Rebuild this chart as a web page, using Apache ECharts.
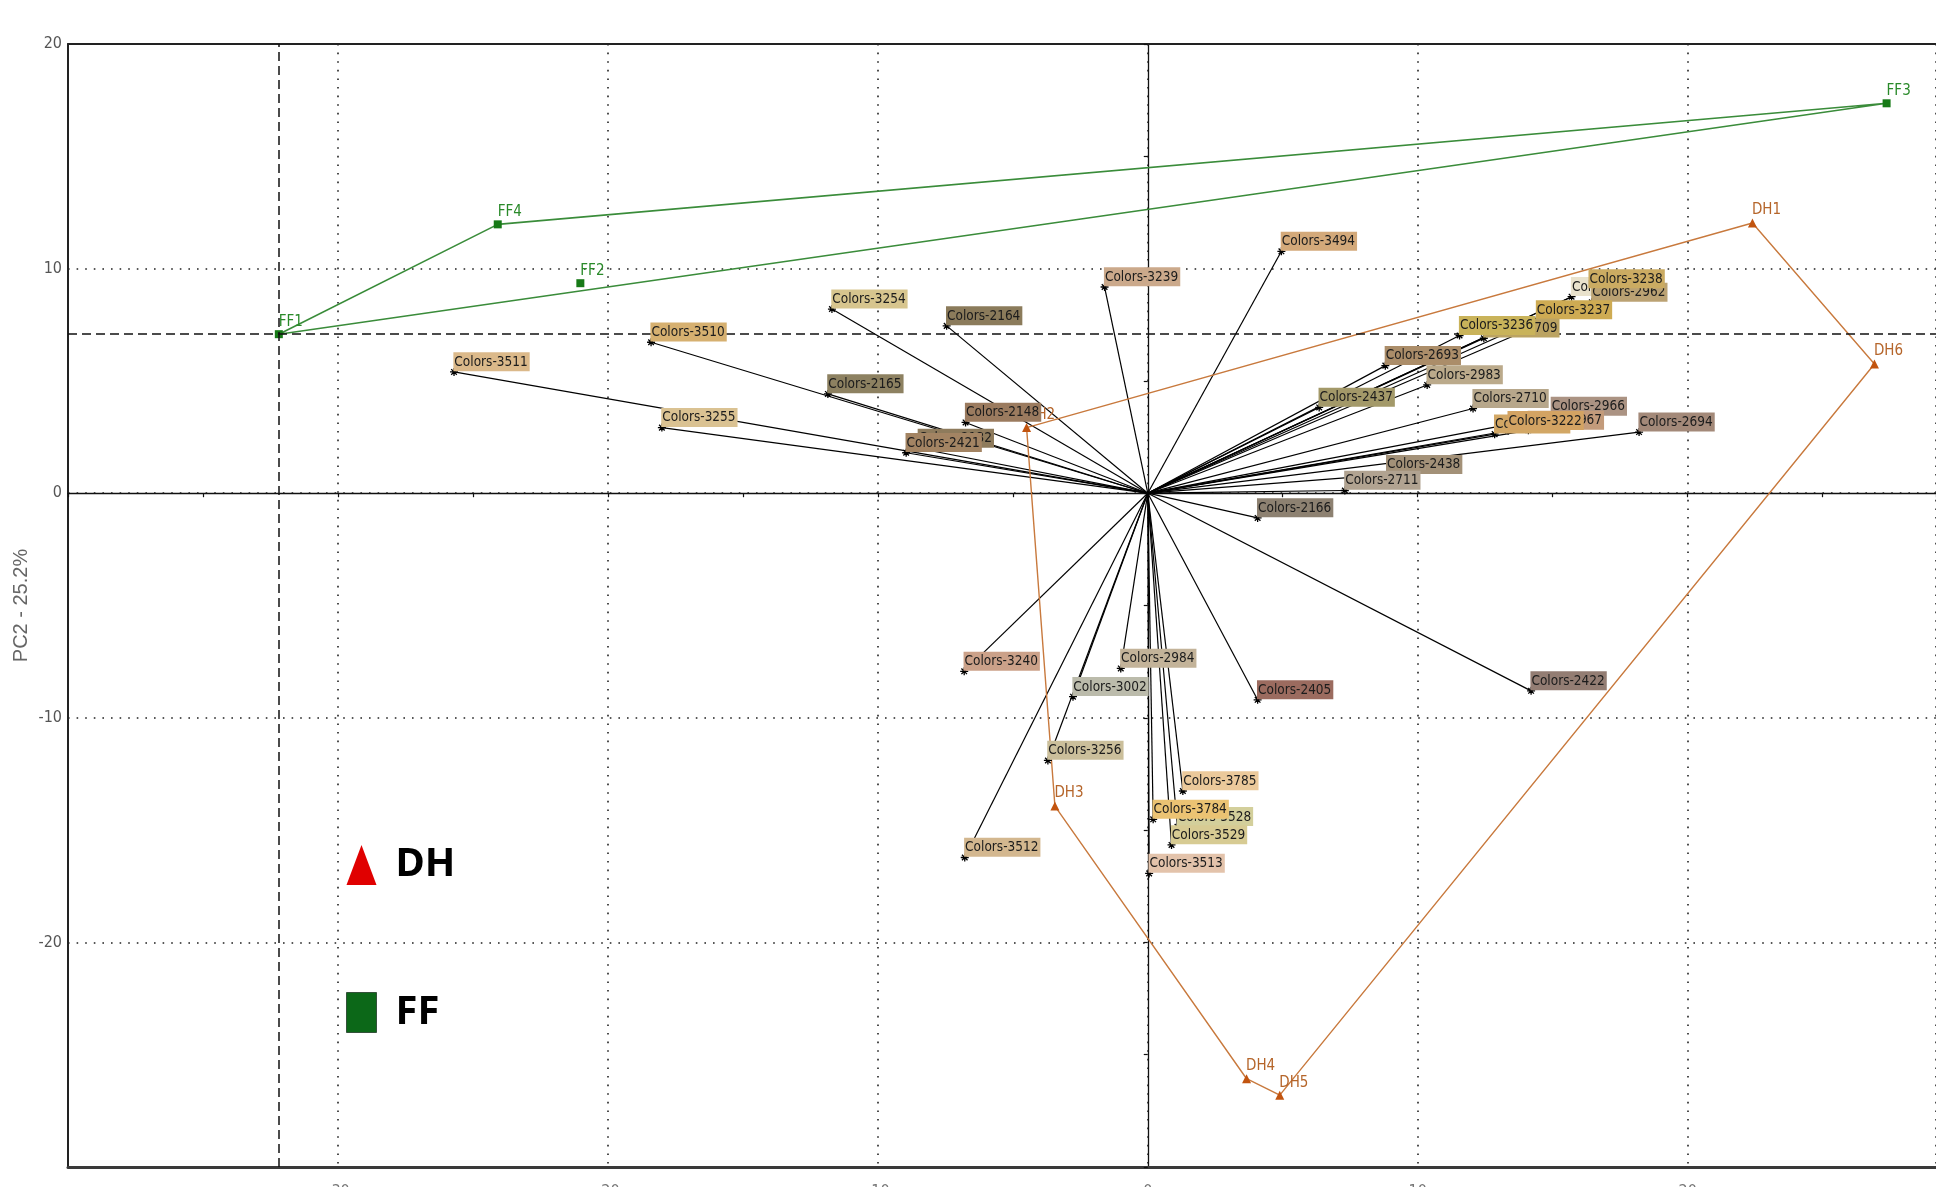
<!DOCTYPE html>
<html>
<head>
<meta charset="utf-8">
<title>PCA biplot</title>
<script src="https://cdn.jsdelivr.net/npm/echarts@6/dist/echarts.min.js"></script>
<style>
    html, body { margin: 0; padding: 0; background: #fff; }
    #chart { width: 1936px; height: 1187px; }
</style>
</head>
<body>
<div id="chart"></div>
<script>
// variable loadings (drawn in this order, later labels on top)
const loadNames = [
    'Colors-3511', 'Colors-3510', 'Colors-3254', 'Colors-2164', 'Colors-2165', 'Colors-3255',
    'Colors-2132', 'Colors-2421', 'Colors-2148', 'Colors-3239', 'Colors-3494',
    'Colors-3233', 'Colors-2962', 'Colors-3238', 'Colors-3237', 'Colors-2709', 'Colors-3236',
    'Colors-2693', 'Colors-2983', 'Colors-2437', 'Colors-2710', 'Colors-2966', 'Colors-2967',
    'Colors-2965', 'Colors-3222', 'Colors-2694',
    'Colors-2438', 'Colors-2711', 'Colors-2166',
    'Colors-3240', 'Colors-2984', 'Colors-3002', 'Colors-2405', 'Colors-2422', 'Colors-3256', 'Colors-3512',
    'Colors-3785', 'Colors-3528', 'Colors-3784', 'Colors-3529', 'Colors-3513'
]
const loadX = [
    -25.7, -18.4, -11.7, -7.45, -11.85, -18.0,
    -8.5, -8.95, -6.75, -1.6, 4.95,
    15.7, 16.45, 16.35, 14.4, 12.45, 11.55,
    8.8, 10.35, 6.35, 12.05, 14.95, 14.1,
    12.85, 13.35, 18.2,
    8.85, 7.3, 4.07,
    -6.8, -1.0, -2.77, 4.07, 14.2, -3.7, -6.78,
    1.3, 1.1, 0.2, 0.88, 0.05
]
const loadY = [
    5.4, 6.72, 8.2, 7.45, 4.42, 2.92,
    2.0, 1.8, 3.15, 9.18, 10.77,
    8.75, 8.5, 9.1, 7.72, 6.9, 7.02,
    5.68, 4.82, 3.82, 3.77, 3.42, 2.8,
    2.63, 2.78, 2.72,
    0.83, 0.12, -1.1,
    -7.93, -7.8, -9.06, -9.2, -8.8, -11.9, -16.22,
    -13.26, -14.85, -14.52, -15.66, -16.93
]
// label box colours, one per loading
const loadBg = [
    '#dbb98a', '#d6b070', '#d7c58e', '#8b7b5b', '#8d8161', '#dac292',
    '#8e7b5c', '#a38463', '#9b7b5f', '#cba98b', '#d3a97a',
    '#e9e2cc', '#bba273', '#cbab62', '#ceab53', '#bba362', '#c9b35a',
    '#ab8d69', '#bbaa8b', '#a39969', '#b7a78b', '#ab9383', '#c39b7b',
    '#d2a765', '#d3a363', '#a38979',
    '#a39178', '#b1a391', '#8d8171',
    '#cba189', '#c3b399', '#bbbbab', '#9b6b5f', '#937d73', '#cbbf9b', '#d3b78f',
    '#ebc99b', '#d3cf9b', '#ebc373', '#d7cb93', '#e3c3ab'
]

// sample scores
const ffNames = ['FF1', 'FF2', 'FF3', 'FF4']
const ffX = [-32.19, -21.02, 27.37, -24.08]
const ffY = [7.08, 9.35, 17.36, 11.97]
const ffHull = ['FF1', 'FF4', 'FF3', 'FF1']

const dhNames = ['DH1', 'DH2', 'DH3', 'DH4', 'DH5', 'DH6']
const dhX = [22.4, -4.49, -3.44, 3.66, 4.89, 26.92]
const dhY = [12.03, 2.92, -13.93, -26.07, -26.8, 5.75]
const dhHull = ['DH1', 'DH6', 'DH5', 'DH4', 'DH3', 'DH2', 'DH1']

// axis ranges
const xMin = -40, xMax = 29.2, yMin = -30, yMax = 20
const gridStep = 10, originTickStep = 5
const yAxisTitle = 'PC2 - 25.2%'

const narrow = "'Liberation Sans Narrow', 'Arial Narrow', 'DejaVu Sans Condensed', sans-serif"
const asterisk = 'path://M4,0L4,8M0,4L8,4M1.2,1.2L6.8,6.8M6.8,1.2L1.2,6.8'
const dotted = { color: '#222', width: 1.6, type: [1.6, 7] }

const hullPoints = (hull, names, xs, ys) => hull.map(n => {
    const i = names.indexOf(n)
    return [xs[i], ys[i]]
})

const chart = echarts.init(document.getElementById('chart'))

chart.setOption({
    animation: false,
    backgroundColor: '#fff',
    grid: {
        left: 68, top: 44, right: 0, bottom: 20,
        containLabel: false,
        outerBoundsMode: 'none'
    },
    legend: {
        orient: 'vertical',
        left: 341,
        top: 840,
        itemWidth: 30,
        itemHeight: 40,
        itemGap: 107,
        selectedMode: false,
        data: [
            { name: 'DH', icon: 'triangle', itemStyle: { color: '#e00000', borderWidth: 0, opacity: 1 } },
            { name: 'FF', icon: 'rect', itemStyle: { color: '#0c6818', borderColor: '#34513a', borderWidth: 1, opacity: 1 } }
        ],
        textStyle: {
            fontFamily: "'Noto Sans', 'Open Sans', sans-serif",
            fontWeight: 'bold',
            fontSize: 40,
            lineHeight: 40,
            color: '#000',
            padding: [0, 0, 0, 14]
        }
    },
    xAxis: [{
        type: 'value', min: xMin, max: xMax, interval: gridStep, position: 'bottom',
        axisLine: { onZero: false, lineStyle: { color: '#3a3a3a', width: 3 } },
        axisTick: { show: false },
        axisLabel: {
            color: '#777', fontFamily: narrow, fontSize: 16, margin: 17,
            showMinLabel: false, showMaxLabel: false
        },
        splitLine: { show: true, lineStyle: dotted }
    }, {
        // the x axis drawn through the origin
        type: 'value', min: xMin, max: xMax, interval: originTickStep, position: 'bottom',
        axisLine: { onZero: true, onZeroAxisIndex: 0, lineStyle: { color: '#111', width: 1.3 } },
        axisTick: { show: true, length: 4, lineStyle: { color: '#111', width: 1.2 } },
        axisLabel: { show: false },
        splitLine: { show: false }
    }, {
        type: 'value', min: xMin, max: xMax, position: 'top',
        axisLine: { onZero: false, lineStyle: { color: '#222', width: 2 } },
        axisTick: { show: false },
        axisLabel: { show: false },
        splitLine: { show: false }
    }],
    yAxis: [{
        type: 'value', min: yMin, max: yMax, interval: gridStep, position: 'left',
        name: yAxisTitle,
        nameLocation: 'middle',
        nameGap: 37,
        nameMoveOverlap: false,
        nameTextStyle: { color: '#666', fontFamily: "'Liberation Sans', Arial, sans-serif", fontSize: 20 },
        axisLine: { onZero: false, lineStyle: { color: '#222', width: 2 } },
        axisTick: { show: false },
        axisLabel: { color: '#555', fontFamily: narrow, fontSize: 16, margin: 6, showMinLabel: false },
        splitLine: { show: true, lineStyle: dotted }
    }, {
        // the y axis drawn through the origin
        type: 'value', min: yMin, max: yMax, interval: originTickStep, position: 'left',
        axisLine: { onZero: true, onZeroAxisIndex: 0, lineStyle: { color: '#111', width: 1.3 } },
        axisTick: { show: true, length: 4, lineStyle: { color: '#111', width: 1.2 } },
        axisLabel: { show: false },
        splitLine: { show: false }
    }],
    series: [{
        name: 'loading vectors',
        type: 'lines',
        coordinateSystem: 'cartesian2d',
        z: 2,
        silent: true,
        lineStyle: { color: '#000', width: 1.2, opacity: 1 },
        data: loadNames.map((n, i) => ({ coords: [[0, 0], [loadX[i], loadY[i]]] }))
    }, {
        name: 'FF hull',
        type: 'line',
        z: 3,
        silent: true,
        symbol: 'none',
        lineStyle: { color: '#3a8c3a', width: 1.6 },
        data: hullPoints(ffHull, ffNames, ffX, ffY)
    }, {
        name: 'DH hull',
        type: 'line',
        z: 3,
        silent: true,
        symbol: 'none',
        lineStyle: { color: '#c8793d', width: 1.4 },
        data: hullPoints(dhHull, dhNames, dhX, dhY)
    }, {
        name: 'FF',
        type: 'scatter',
        z: 4,
        symbol: 'rect',
        symbolSize: 8,
        itemStyle: { color: '#177a17', opacity: 1 },
        label: {
            show: true, position: [4, -16], formatter: p => p.name,
            fontFamily: narrow, fontSize: 15, lineHeight: 16, color: '#2a8a2a'
        },
        data: ffNames.map((n, i) => ({ name: n, value: [ffX[i], ffY[i]] })),
        markLine: {
            silent: true,
            symbol: ['none', 'none'],
            label: { show: false },
            lineStyle: { color: '#111', width: 1.5, type: [9, 5] },
            data: [{ xAxis: ffX[0] }, { yAxis: ffY[0] }]
        }
    }, {
        name: 'DH',
        type: 'scatter',
        z: 4,
        symbol: 'triangle',
        symbolSize: 9,
        itemStyle: { color: '#c2540f', opacity: 1 },
        label: {
            show: true, position: [4, -16], formatter: p => p.name,
            fontFamily: narrow, fontSize: 15, lineHeight: 16, color: '#b5652a'
        },
        data: dhNames.map((n, i) => ({ name: n, value: [dhX[i], dhY[i]] }))
    }, {
        name: 'loadings',
        type: 'scatter',
        z: 6,
        symbol: asterisk,
        symbolSize: 8,
        itemStyle: { color: '#000', borderColor: '#000', borderWidth: 1.3, opacity: 1 },
        label: {
            show: true, position: [4, -15], formatter: p => p.name,
            fontFamily: narrow, fontSize: 13.5, lineHeight: 16, color: '#1c1c1c',
            padding: [2, 2, 1, 1]
        },
        data: loadNames.map((n, i) => ({
            name: n,
            value: [loadX[i], loadY[i]],
            label: { backgroundColor: loadBg[i] }
        }))
    }]
})
</script>
</body>
</html>
